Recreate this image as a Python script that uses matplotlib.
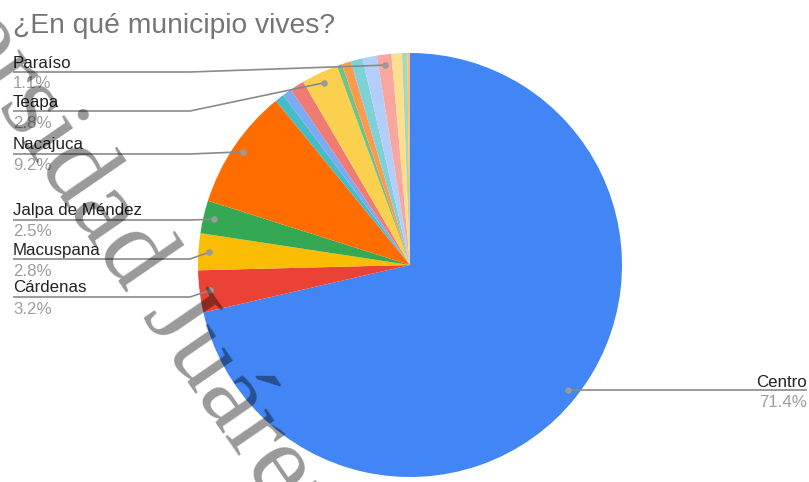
#!/usr/bin/env python3
"""
Pie chart: ¿En qué municipio vives? (Google Forms style, with watermark).
"""

import numpy as np
import matplotlib.pyplot as plt

TITLE = "¿En qué municipio vives?"

# Data (percent of answers), clockwise from 12 o'clock
municipios = ["Centro", "Cárdenas", "Macuspana", "Jalpa de Méndez", "Nacajuca",
              "Otro 1", "Otro 2", "Otro 3", "Teapa", "Otro 4", "Otro 5",
              "Otro 6", "Otro 7", "Paraíso", "Otro 8", "Otro 9", "Otro 10"]
porcentajes = [71.4, 3.2, 2.8, 2.5, 9.2, 0.7, 0.7, 1.1, 2.8, 0.4, 0.7,
               0.9, 1.1, 1.1, 0.8, 0.4, 0.2]
colores = ["#4285F4", "#EA4335", "#FBBC04", "#34A853", "#FF6D01",
           "#46BDC6", "#7BAAF7", "#F07B72", "#FCD04F", "#71C287", "#FF994D",
           "#7ED1D7", "#B3CEFB", "#F7A7A0", "#FDDE8C", "#A8D8B4", "#FFBB88"]

# Labeled slices and the y (pixels) of their underline
etiquetas = ["Paraíso", "Teapa", "Nacajuca", "Jalpa de Méndez", "Macuspana", "Cárdenas"]
etiqueta_y = [72, 111, 154, 220, 259, 297]

W, H = 809, 482
CX, CY, R = 410, 265, 212
FONT = "Liberation Sans"

fig = plt.figure(figsize=(W / 100, H / 100), dpi=100)
ax = fig.add_axes([0, 0, 1, 1])

wedges, _ = ax.pie(porcentajes, colors=colores, startangle=-90, counterclock=True,
                   center=(CX, CY), radius=R,
                   wedgeprops=dict(linewidth=0))
ax.set_xlim(0, W)
ax.set_ylim(H, 0)
ax.set_aspect("equal")
ax.axis("off")


def dot_pos(w):
    ang = np.deg2rad((w.theta1 + w.theta2) / 2)
    return CX + 0.95 * R * np.cos(ang), CY + 0.95 * R * np.sin(ang)


line_kw = dict(color="#8a8a8a", lw=1.2, solid_capstyle="butt", zorder=3)
dot_kw = dict(s=22, color="#9a9a9a", zorder=4, linewidths=0)

for name, uy in zip(etiquetas, etiqueta_y):
    i = municipios.index(name)
    dx, dy = dot_pos(wedges[i])
    knee = min(190, dx - 15)
    ax.plot([13, knee, dx], [uy, uy, dy], **line_kw)
    ax.scatter([dx], [dy], **dot_kw)
    ax.text(13, uy - 4.5, name, fontsize=12.2, family=FONT, color="#222222",
            va="baseline", ha="left")
    ax.text(13, uy + 16.5, f"{porcentajes[i]:.1f}%", fontsize=12.2, family=FONT,
            color="#9e9e9e", va="baseline", ha="left")

# Centro, on the right side
i = municipios.index("Centro")
dx, dy = dot_pos(wedges[i])
ax.plot([dx, 807], [dy, dy], **line_kw)
ax.scatter([dx], [dy], **dot_kw)
ax.text(807, dy - 3.5, "Centro", fontsize=12.2, family=FONT, color="#222222",
        va="baseline", ha="right")
ax.text(807, dy + 17, f"{porcentajes[i]:.1f}%", fontsize=12.2, family=FONT,
        color="#9e9e9e", va="baseline", ha="right")

# Title
ax.text(13, 33, TITLE, fontsize=20.3, family=FONT, color="#757575",
        va="baseline", ha="left")

# Watermark across the chart
ax.text(145, 275, "ersidad Juárez", fontsize=78, family="Liberation Serif",
        color="black", alpha=0.4, rotation=-55.5, rotation_mode="anchor",
        ha="center", va="center", zorder=10)

fig.savefig("out.png", dpi=100)
